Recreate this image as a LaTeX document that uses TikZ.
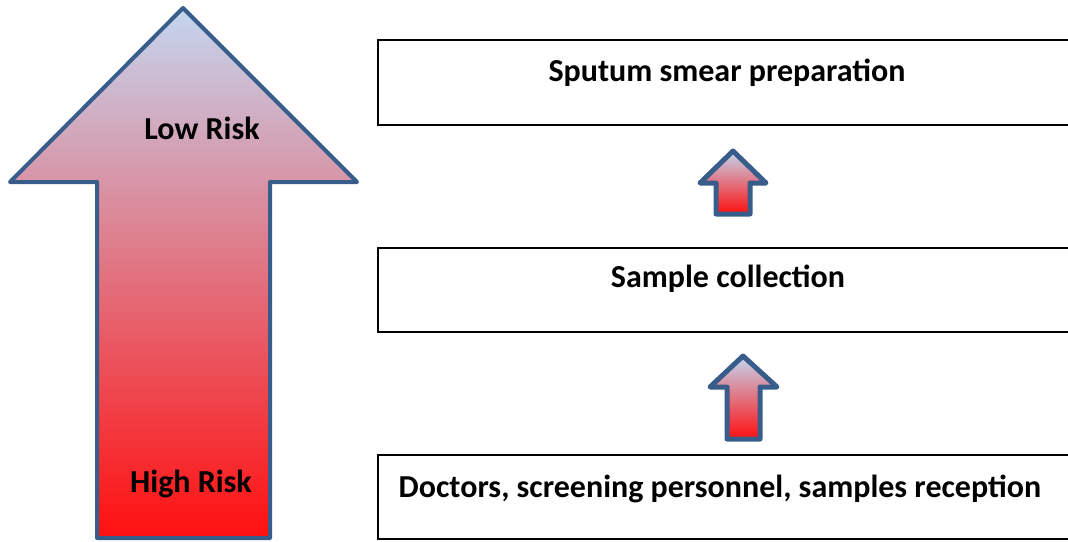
\documentclass[tikz,border=0pt]{standalone}
\usepackage{fontspec}
\setmainfont{Carlito}
\definecolor{arrowline}{RGB}{56,93,138}
\definecolor{topblue}{RGB}{196,214,240}
\definecolor{midpink}{RGB}{224,165,188}
\definecolor{botred}{RGB}{255,15,15}
\tikzset{
  riskarrow/.style={draw=arrowline, line width=4pt, line join=round, top color=topblue, middle color=midpink, bottom color=botred},
  smallarrow/.style={draw=arrowline, line width=5pt, line join=round, top color=topblue, middle color=midpink, bottom color=botred},
  stagebox/.style={draw=black, line width=2pt},
  lbl/.style={font=\bfseries\fontsize{32}{38}\selectfont, inner sep=0pt, anchor=base}
}
\begin{document}
\begin{tikzpicture}[x=1pt,y=-1pt]
\useasboundingbox (0,0) rectangle (1068,541);
% big arrow
\path[riskarrow] (183,8) -- (357,182) -- (270,182) -- (270,538) -- (97,538) -- (97,182) -- (10,182) -- cycle;
\node[lbl] (low) at (202,139) {Low Risk};
\node[lbl] (high) at (191,492) {High Risk};
% boxes
\draw[stagebox] (378,40) rectangle (1080,125);
\draw[stagebox] (378,248) rectangle (1080,332);
\draw[stagebox] (378,455) rectangle (1080,539);
\node[lbl] (b1) at (727,81) {Sputum smear preparation};
\node[lbl] (b2) at (728,287) {Sample collection};
\node[lbl] (b3) at (720,497) {Doctors, screening personnel, samples reception};
% small arrows
\path[smallarrow] (733,151) -- (766,183) -- (750,183) -- (750,214) -- (716,214) -- (716,183) -- (700,183) -- cycle;
\path[smallarrow] (743,356) -- (777,387) -- (760,387) -- (760,439) -- (727,439) -- (727,387) -- (710,387) -- cycle;
\end{tikzpicture}
\end{document}
